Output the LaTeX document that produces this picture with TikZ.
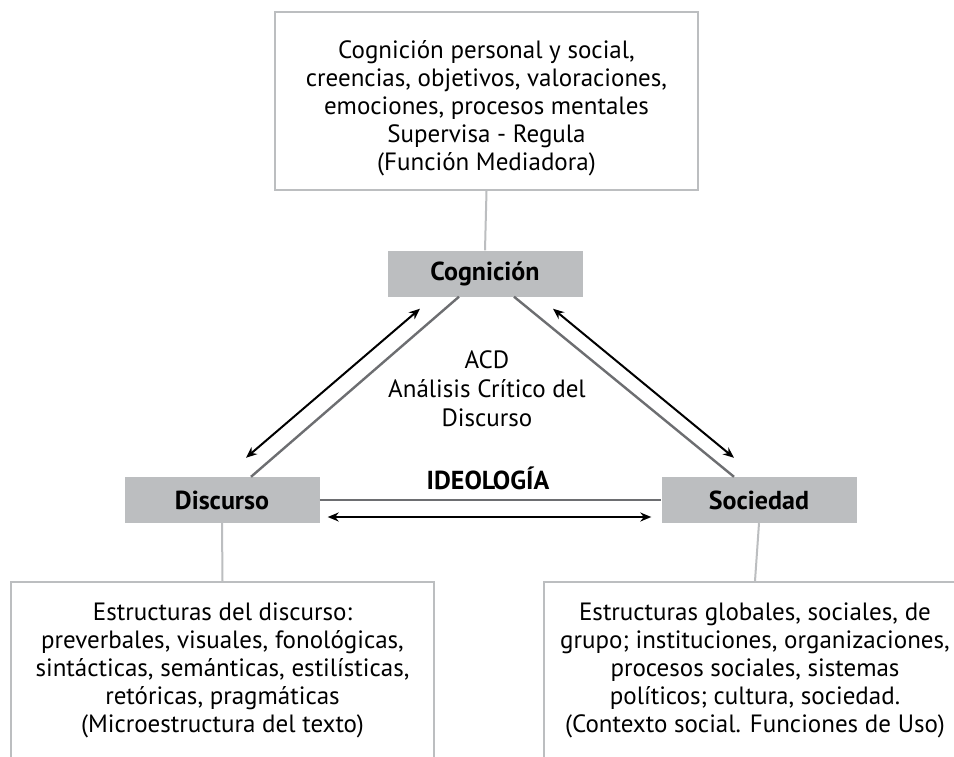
\documentclass[tikz,border=0pt]{standalone}
\usepackage{fontspec}
\setmainfont{PT Sans}
\usepackage{tikz}
\usetikzlibrary{arrows.meta}
\tikzset{>={Stealth[width=9pt,length=11pt]}}
\definecolor{boxgray}{HTML}{BCBEC0}
\definecolor{linegray}{HTML}{6D6E71}
\newcommand\bodyfont{\fontsize{25}{28}\selectfont}
\tikzset{
  mainbox/.style={fill=boxgray, minimum width=195pt, minimum height=46pt,
    inner sep=0pt, font=\fontsize{26}{28}\selectfont\bfseries},
  textbox/.style={draw=boxgray, line width=2pt, minimum width=423pt,
    align=center, inner ysep=21pt, font=\bodyfont},
  link/.style={draw=boxgray, line width=2pt},
  side/.style={draw=linegray, line width=2.4pt},
  dblarrow/.style={<->, line width=2pt, black}
}

\begin{document}
\begin{tikzpicture}[x=1pt,y=-1pt]

  \clip (0,0) rectangle (954,756);
  \fill[white] (0,0) rectangle (954,756);

  % boxes
  \node[textbox, inner ysep=0pt, minimum height=178pt] (mind) at (486.5,101)
  {\rule{0pt}{32pt}Cognición personal y social,\\ creencias, objetivos, valoraciones,\\
    emociones, procesos mentales\\ Supervisa - Regula\\ (Función Mediadora)};

  \node[mainbox] (cog) at (485,273.5) {Cognición};
  \node[mainbox] (disc) at (222,500) {Discurso};
  \node[mainbox] (soc) at (759,500) {Sociedad};

  \node[textbox, anchor=north] (struct) at (222.5,581)
  {Estructuras del discurso:\\ preverbales, visuales, fonológicas,\\
    sintácticas, semánticas, estilísticas,\\ retóricas, pragmáticas\\
    (Microestructura del texto)\rule[-80pt]{0pt}{0pt}};
  \node[textbox, anchor=north] (context) at (755,581)
  {Estructuras globales, sociales, de\\ grupo; instituciones, organizaciones,\\
    procesos sociales, sistemas\\ políticos; cultura, sociedad.\\
    (Contexto social. Funciones de Uso)\rule[-80pt]{0pt}{0pt}};

  \node[font=\fontsize{25}{29}\selectfont, align=center] (acd) at (487,389)
  {ACD\\ Análisis Crítico del\\ Discurso};
  \node[font=\fontsize{26}{28}\selectfont\bfseries] (ideo) at (488,478) {IDEOLOGÍA};

  % links
  \draw[link] (mind.south) -- (cog.north);
  \draw[link] (disc.south) -- (struct.north);
  \draw[link] (soc.south) -- (context.north);

  % triangle
  \draw[side] ([shift={(-26,0)}]cog.south) -- ([shift={(29,0)}]disc.north);
  \draw[side] ([shift={(29,0)}]cog.south) -- ([shift={(-25,0)}]soc.north);
  \draw[side] (disc.east) -- (soc.west);

  \draw[dblarrow] ([shift={(24,-19)}]disc.north) -- ([shift={(-65,12)}]cog.south);
  \draw[dblarrow] ([shift={(68,12)}]cog.south) -- ([shift={(-25,-19)}]soc.north);
  \draw[dblarrow] ([shift={(8,17)}]disc.east) -- ([shift={(-10,17)}]soc.west);

\end{tikzpicture}
\end{document}
